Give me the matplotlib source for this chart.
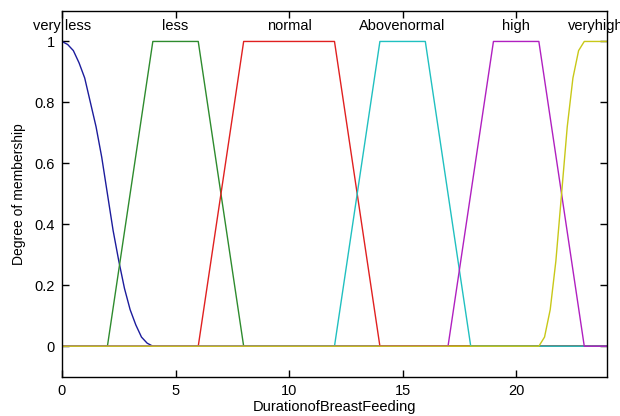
import numpy as np
import matplotlib
matplotlib.use("Agg")
import matplotlib.pyplot as plt

plt.rcParams['font.family'] = ['Liberation Sans', 'DejaVu Sans']

# membership functions (x, degree)
vless_x = [0, 0.25, 0.5, 0.75, 1, 1.25, 1.5, 1.75, 2, 2.25, 2.5, 2.75, 3, 3.25, 3.5, 3.75, 4, 24]
vless_y = [1, 0.99, 0.97, 0.93, 0.88, 0.80, 0.72, 0.62, 0.5, 0.38, 0.28, 0.19, 0.12, 0.07, 0.03, 0.01, 0, 0]
less_x = [0, 2, 4, 6, 8, 24]
less_y = [0, 0, 1, 1, 0, 0]
normal_x = [0, 6, 8, 12, 14, 24]
normal_y = [0, 0, 1, 1, 0, 0]
above_x = [0, 12, 14, 16, 18, 24]
above_y = [0, 0, 1, 1, 0, 0]
high_x = [0, 17, 19, 21, 23, 24]
high_y = [0, 0, 1, 1, 0, 0]
vhigh_x = [0, 21, 21.25, 21.5, 21.75, 22, 22.25, 22.5, 22.75, 23, 24]
vhigh_y = [0, 0, 0.03, 0.12, 0.28, 0.5, 0.72, 0.88, 0.97, 1, 1]

labels = ['very less', 'less', 'normal', 'Abovenormal', 'high', 'veryhigh']
label_x = [0, 5, 10, 15, 20, 23.5]

colors = ['#1c1c9c', '#2e8b2e', '#e02020', '#20c0c0', '#b020c0', '#c8c818']

fig = plt.figure(figsize=(6.2, 4.16), dpi=100)
ax = fig.add_subplot(111)
fig.subplots_adjust(left=0.1, right=0.979, top=0.9736, bottom=0.0945)

curves = [(vless_x, vless_y), (less_x, less_y), (normal_x, normal_y),
          (above_x, above_y), (high_x, high_y), (vhigh_x, vhigh_y)]
for (xs, ys), c in zip(curves, colors):
    ax.plot(xs, ys, color=c, lw=1.0)

for lab, lx in zip(labels, label_x):
    ax.text(lx, 1.05, lab, ha='center', va='center', fontsize=10.5,
            clip_on=False, zorder=1)

ax.set_xlim(0, 24)
ax.set_ylim(-0.1, 1.1)
ax.set_xticks([0, 5, 10, 15, 20])
ax.set_yticks([0, 0.2, 0.4, 0.6, 0.8, 1])
ax.set_yticklabels(['0', '0.2', '0.4', '0.6', '0.8', '1'])
ax.tick_params(direction='in', length=5, width=1, top=True, right=True,
               labelsize=10.5, pad=5)
for s in ax.spines.values():
    s.set_linewidth(1.0)
ax.set_xlabel('DurationofBreastFeeding', fontsize=10.5, labelpad=2)
ax.set_ylabel('Degree of membership', fontsize=10, labelpad=6)

fig.savefig('out.png', dpi=100)
